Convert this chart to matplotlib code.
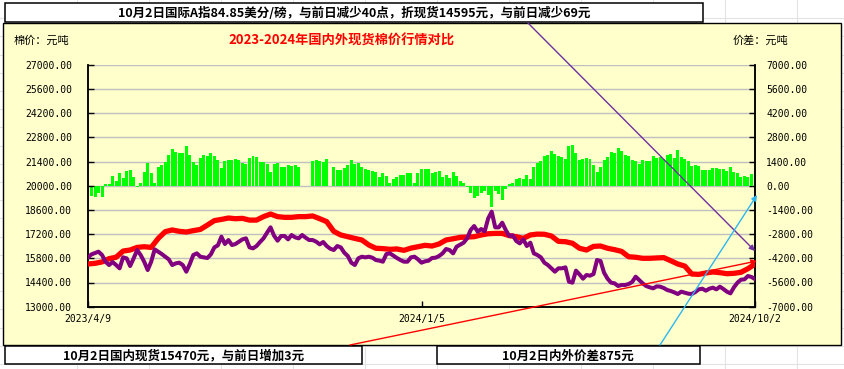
import matplotlib
matplotlib.use('Agg')
import matplotlib.pyplot as plt
from matplotlib.patches import Rectangle, FancyArrowPatch
from matplotlib.lines import Line2D
import numpy as np
import pandas as pd

plt.rcParams['font.family'] = ['Noto Sans CJK SC', 'DejaVu Sans']

# 日期范围
fecha_ini = '2023-04-09'
fecha_mid = '2024-01-05'
fecha_fin = '2024-10-02'
etiquetas_x = ['2023/4/9', '2024/1/5', '2024/10/2']

# 国内现货棉价 (元/吨)
precio_interno = [
    15470, 15510, 15590, 15780, 15860, 16220, 16280, 16430, 16470, 16430, 16950, 17340, 17440, 17360, 17320, 17400,
    17470, 17720, 17980, 18050, 18130, 18090, 18110, 18010, 18010, 18210, 18360, 18210, 18170, 18170, 18210, 18210,
    18250, 18090, 17920, 17360, 17150, 17050, 16950, 16860, 16570, 16380, 16360, 16320, 16340, 16260, 16390, 16470,
    16550, 16510, 16630, 16860, 16930, 17010, 17030, 17050, 17150, 17220, 17240, 17240, 17110, 17050, 16950, 17150,
    17200, 17190, 17090, 16780, 16760, 16670, 16380, 16280, 16490, 16510, 16380, 16300, 16200, 15890, 15860, 15800,
    15800, 15820, 15840, 15660, 15470, 15350, 14890, 14870, 14950, 15010, 14970, 14910, 14930, 14990, 15200, 15470,
]

# 国际棉价折现货 (元/吨)
precio_externo = [
    15855, 16028, 16105, 16183, 15990, 15604, 15411, 15585, 15411, 15219, 15855, 15797, 15353, 15797, 16279, 15990,
    15604, 15122, 15604, 16318, 16183, 16048, 15893, 15739, 15411, 15508, 15546, 15411, 15026, 15469, 15990, 16086,
    15893, 15855, 15816, 16028, 16433, 16549, 17050, 16626, 16857, 16568, 16626, 16761, 16896, 16954, 16433, 16375,
    16510, 16742, 16954, 17282, 17590, 17108, 16819, 17089, 17089, 16896, 17147, 17012, 16954, 17147, 16992, 16857,
    16857, 16761, 16607, 16742, 16510, 16356, 16279, 16510, 16433, 16125, 15932, 15546, 15411, 15797, 15893, 15855,
    15893, 15835, 15700, 15662, 15604, 16048, 16086, 15951, 15816, 15700, 15604, 15604, 15855, 15893, 15739, 15546,
    15623, 15662, 15816, 15835, 15932, 16086, 16337, 16279, 16086, 16472, 16587, 16703, 16954, 17436, 17667, 17339,
    17494, 17359, 18111, 18496, 17590, 17590, 17860, 17436, 17089, 17127, 16800, 16665, 16896, 16510, 16703, 16086,
    15990, 15855, 15546, 15411, 15219, 15026, 15219, 15219, 15276, 14447, 14390, 15084, 14871, 14621, 14833, 14794,
    14891, 15700, 15643, 14968, 14621, 14390, 14351, 14197, 14255, 14255, 14312, 14428, 14737, 14544, 14351, 14197,
    14120, 14062, 14178, 14158, 14081, 13965, 13908, 13830, 13734, 13869, 13811, 13753, 13734, 13850, 14004, 14042,
    13927, 14042, 14100, 14004, 14158, 14023, 13869, 13773, 14120, 14390, 14563, 14582, 14775, 14717, 14595,
]

# 内外价差 (元/吨)
diferencia = [
    -347, -598, -675, -443, -636, 77, 96, 559, 289, 713, 424, 868, 906, 482, -58, 174,
    810, 1292, 713, 135, 1099, 1195, 1388, 1774, 2102, 1967, 1870, 1870, 2294, 1774, 1388, 1195,
    1581, 1774, 1716, 1870, 1716, 1485, 1003, 1446, 1485, 1485, 1523, 1485, 1292, 1253, 1581, 1716,
    1677, 1388, 1388, 1253, 810, 1253, 1330, 1099, 1060, 1195, 1138, 1195, 1099, 0, 0, 0,
    1446, 1485, 1446, 1388, 1523, 0, 1099, 906, 906, 1003, 1195, 1485, 1253, 1330, 1099, 945,
    906, 868, 790, 521, 713, 559, 174, 405, 482, 617, 617, 752, 713, 135, 752, 945,
    945, 945, 752, 810, 868, 521, 598, 443, 810, 559, 289, 174, -58, -443, -733, -598,
    -405, -289, -540, -1215, -289, -482, -829, -174, 96, 174, 366, 424, 405, 598, 405, 1099,
    1292, 1446, 1716, 1754, 2024, 1832, 1716, 1677, 1562, 2294, 2352, 1870, 1485, 1523, 1581, 1523,
    1195, 810, 1099, 1485, 1677, 1967, 1870, 2159, 2024, 1793, 1716, 1485, 1446, 1253, 1485, 1446,
    1446, 1716, 1581, 1639, 1523, 1774, 1832, 1581, 2063, 1677, 1523, 1446, 1138, 1195, 1138, 906,
    906, 906, 1003, 1003, 945, 983, 868, 1060, 810, 752, 521, 559, 482, 675, 875,
]

ticks_izq = np.arange(13000, 27001, 1400)
ticks_der = np.arange(-7000, 7001, 1400)

W, H = 844, 369


def fx(px):
    return px / W


def fy(py):
    return 1 - py / H


fig = plt.figure(figsize=(W / 100, H / 100), dpi=100)
fig.patch.set_facecolor('white')

# cuadricula de la hoja (fondo)
for yy in np.arange(364, 0, -18.2):
    fig.add_artist(Line2D([0, 1], [fy(yy), fy(yy)], transform=fig.transFigure,
                          color='#E3E3E3', lw=0.8, zorder=-3))
for xx in [77, 149, 221, 293, 365, 437, 509, 581, 653, 725, 797]:
    fig.add_artist(Line2D([fx(xx), fx(xx)], [0, 1], transform=fig.transFigure,
                          color='#E3E3E3', lw=0.8, zorder=-3))

# area del grafico
fig.add_artist(Rectangle((fx(3), fy(345)), fx(841) - fx(3), fy(23) - fy(345),
                         transform=fig.transFigure, facecolor='#FFFFCC',
                         edgecolor='black', lw=1.0, zorder=-2))

# ejes
ax_bar = fig.add_axes([fx(88), fy(306.7), fx(755) - fx(88), fy(64.7) - fy(306.7)])
ax = ax_bar.twinx()
ax.set_zorder(ax_bar.get_zorder() + 1)
ax.patch.set_visible(False)
ax_bar.patch.set_visible(False)

f_bar = pd.date_range(fecha_ini, fecha_fin, periods=len(diferencia))
f_int = pd.date_range(fecha_ini, fecha_fin, periods=len(precio_interno))
f_ext = pd.date_range(fecha_ini, fecha_fin, periods=len(precio_externo))
paso = (f_bar[1] - f_bar[0]) * 0.85

ax_bar.bar(f_bar, diferencia, width=paso, color='#00FF00', zorder=2)
ax_bar.set_ylim(-7000, 7000)
ax_bar.set_yticks(ticks_der)
ax_bar.yaxis.tick_right()
ax_bar.yaxis.set_label_position('right')
ax_bar.set_yticklabels(['%.2f' % v for v in ticks_der])
ax_bar.grid(axis='y', color='#C0C0C0', lw=1.0, zorder=0)
ax_bar.set_axisbelow(True)

ax.plot(f_int, precio_interno, color='#FF0000', lw=3.8, solid_joinstyle='round', zorder=3)
ax.plot(f_ext, precio_externo, color='#800080', lw=2.9, solid_joinstyle='round', zorder=4)
ax.set_ylim(13000, 27000)
ax.set_yticks(ticks_izq)
ax.yaxis.tick_left()
ax.set_yticklabels(['%.2f' % v for v in ticks_izq])

ax_bar.set_xlim(pd.Timestamp(fecha_ini), pd.Timestamp(fecha_fin))
ax_bar.set_xticks([pd.Timestamp(fecha_ini), pd.Timestamp(fecha_mid), pd.Timestamp(fecha_fin)])
ax_bar.set_xticklabels(etiquetas_x)

for a in (ax, ax_bar):
    a.spines['top'].set_visible(False)
    for s in ('left', 'right', 'bottom'):
        a.spines[s].set_linewidth(1.1)
        a.spines[s].set_color('black')

ax.tick_params(axis='y', direction='in', length=4, width=1, pad=11.5, labelsize=7)
ax_bar.tick_params(axis='y', direction='in', length=4, width=1, pad=8, labelsize=7)
ax_bar.tick_params(axis='x', direction='in', length=4, width=1, pad=5, labelsize=7)
for lab in ax.get_yticklabels() + ax_bar.get_yticklabels() + ax_bar.get_xticklabels():
    lab.set_family('DejaVu Sans Mono')

# cajas de texto
cajas = [(5, 3, 703, 22), (5, 346, 362, 364), (437, 346, 700, 364)]
for x0, y0, x1, y1 in cajas:
    fig.add_artist(Rectangle((fx(x0), fy(y1)), fx(x1) - fx(x0), fy(y0) - fy(y1),
                             transform=fig.transFigure, facecolor='white',
                             edgecolor='black', lw=1.1, zorder=5))

fig.text(fx(354), fy(13), '10月2日国际A指84.85美分/磅，与前日减少40点，折现货14595元，与前日减少69元',
         ha='center', va='center', fontsize=9, fontweight='bold', zorder=6)
fig.text(fx(183.5), fy(356), '10月2日国内现货15470元，与前日增加3元',
         ha='center', va='center', fontsize=9, fontweight='bold', zorder=6)
fig.text(fx(568), fy(356), '10月2日内外价差875元',
         ha='center', va='center', fontsize=9, fontweight='bold', zorder=6)

fig.text(fx(342), fy(41), '2023-2024年国内外现货棉价行情对比', ha='center', va='center',
         fontsize=9.5, fontweight='bold', color='#FF0000')
fig.text(fx(14), fy(41), '棉价：元吨', ha='left', va='center', fontsize=8)
fig.text(fx(733), fy(41), '价差：元吨', ha='left', va='center', fontsize=8)

# flechas
flechas = [((528, 23), (755, 251), '#7030A0'),
           ((350, 345), (757, 261), '#FF0000'),
           ((660, 345), (757, 195), '#2DB7F0')]
for (xa, ya), (xb, yb), col in flechas:
    fig.add_artist(FancyArrowPatch((fx(xa), fy(ya)), (fx(xb), fy(yb)),
                                   transform=fig.transFigure, arrowstyle='-|>',
                                   mutation_scale=8, color=col, lw=1.0,
                                   shrinkA=0, shrinkB=0, zorder=10))

fig.savefig('out.png', dpi=100)
